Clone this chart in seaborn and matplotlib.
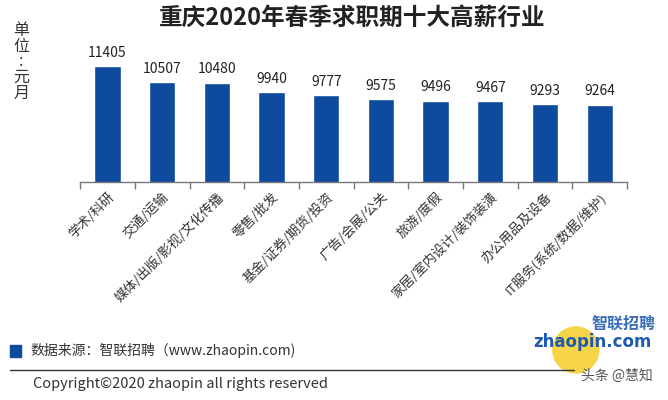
import matplotlib
matplotlib.use("Agg")
import matplotlib.pyplot as plt
import seaborn as sns
import pandas as pd
from matplotlib.patches import Rectangle, Ellipse

categories = ["学术/科研", "交通/运输", "媒体/出版/影视/文化传播", "零售/批发",
              "基金/证券/期货/投资", "广告/会展/公关", "旅游/度假",
              "家居/室内设计/装饰装潢", "办公用品及设备", "IT服务(系统/数据/维护)"]
salaries = [11405, 10507, 10480, 9940, 9777, 9575, 9496, 9467, 9293, 9264]

sns.set_theme(style="white")
plt.rcParams['font.family'] = ['Noto Sans CJK SC', 'DejaVu Sans']

df = pd.DataFrame({"cat": categories, "val": salaries})

fig = plt.figure(figsize=(6.68, 4.0), dpi=100)
ax = fig.add_axes([0.12, 0.545, 0.8186, 0.3625])
sns.barplot(data=df, x="cat", y="val", color="#0E4A9E", width=0.48,
            saturation=1, ax=ax)
ax.set_ylim(5000, 13000)
ax.set_xlim(-0.5, len(categories) - 0.5)
for i, v in enumerate(salaries):
    ax.text(i, v + 350, str(v), ha="center", va="bottom", fontsize=10, color="#222222")

for s in ["top", "right", "left"]:
    ax.spines[s].set_visible(False)
ax.spines["bottom"].set_color("#777777")
ax.spines["bottom"].set_linewidth(1.0)
ax.set_yticks([])
ax.set_xlabel("")
ax.set_ylabel("")
ax.set_xticks([i - 0.5 for i in range(len(categories) + 1)], minor=False)
ax.set_xticklabels([])
ax.set_xticks(range(len(categories)), minor=True)
ax.set_xticklabels(categories, minor=True, rotation=45, ha="right",
                   rotation_mode="anchor", fontsize=9.5, color="#333333")
ax.tick_params(axis="x", which="major", length=5, width=1, color="#777777", direction="out", bottom=True)
ax.tick_params(axis="x", which="minor", length=0, pad=6)

fig.text(0.527, 0.955, "重庆2020年春季求职期十大高薪行业", ha="center", va="center",
         fontsize=17, fontweight="bold", color="#222222")
fig.text(0.032, 0.845, "单\n位\n:\n元\n月", ha="center", va="center", fontsize=11.5,
         color="#333333", linespacing=0.9)

# footer
fig.patches.append(Rectangle((0.015, 0.107), 0.017, 0.03, transform=fig.transFigure,
                             color="#0E4A9E", zorder=5))
fig.text(0.045, 0.125, "数据来源：智联招聘（www.zhaopin.com)", ha="left", va="center",
         fontsize=10, color="#333333")
fig.lines.append(plt.Line2D([0.015, 0.86], [0.075, 0.075], transform=fig.transFigure,
                            color="#333333", linewidth=1.0))
fig.text(0.05, 0.04, "Copyright©2020 zhaopin all rights reserved", ha="left", va="center",
         fontsize=10.5, color="#333333")

# logo
fig.patches.append(Ellipse((0.862, 0.125), 46 / 668, 46 / 400, transform=fig.transFigure,
                           color="#F5D547", zorder=1))
fig.text(0.982, 0.19, "智联招聘", ha="right", va="center", fontsize=11.5, fontweight="bold",
         style="italic", color="#3A6FB8", zorder=3)
fig.text(0.975, 0.145, "zhaopin.com", ha="right", va="center", fontsize=12, fontweight="bold",
         color="#1F5AAE", zorder=3, family=["DejaVu Sans"])
fig.text(0.87, 0.06, "头条 @慧知", ha="left", va="center", fontsize=10, color="#555555")

fig.savefig("out.png", dpi=100)
